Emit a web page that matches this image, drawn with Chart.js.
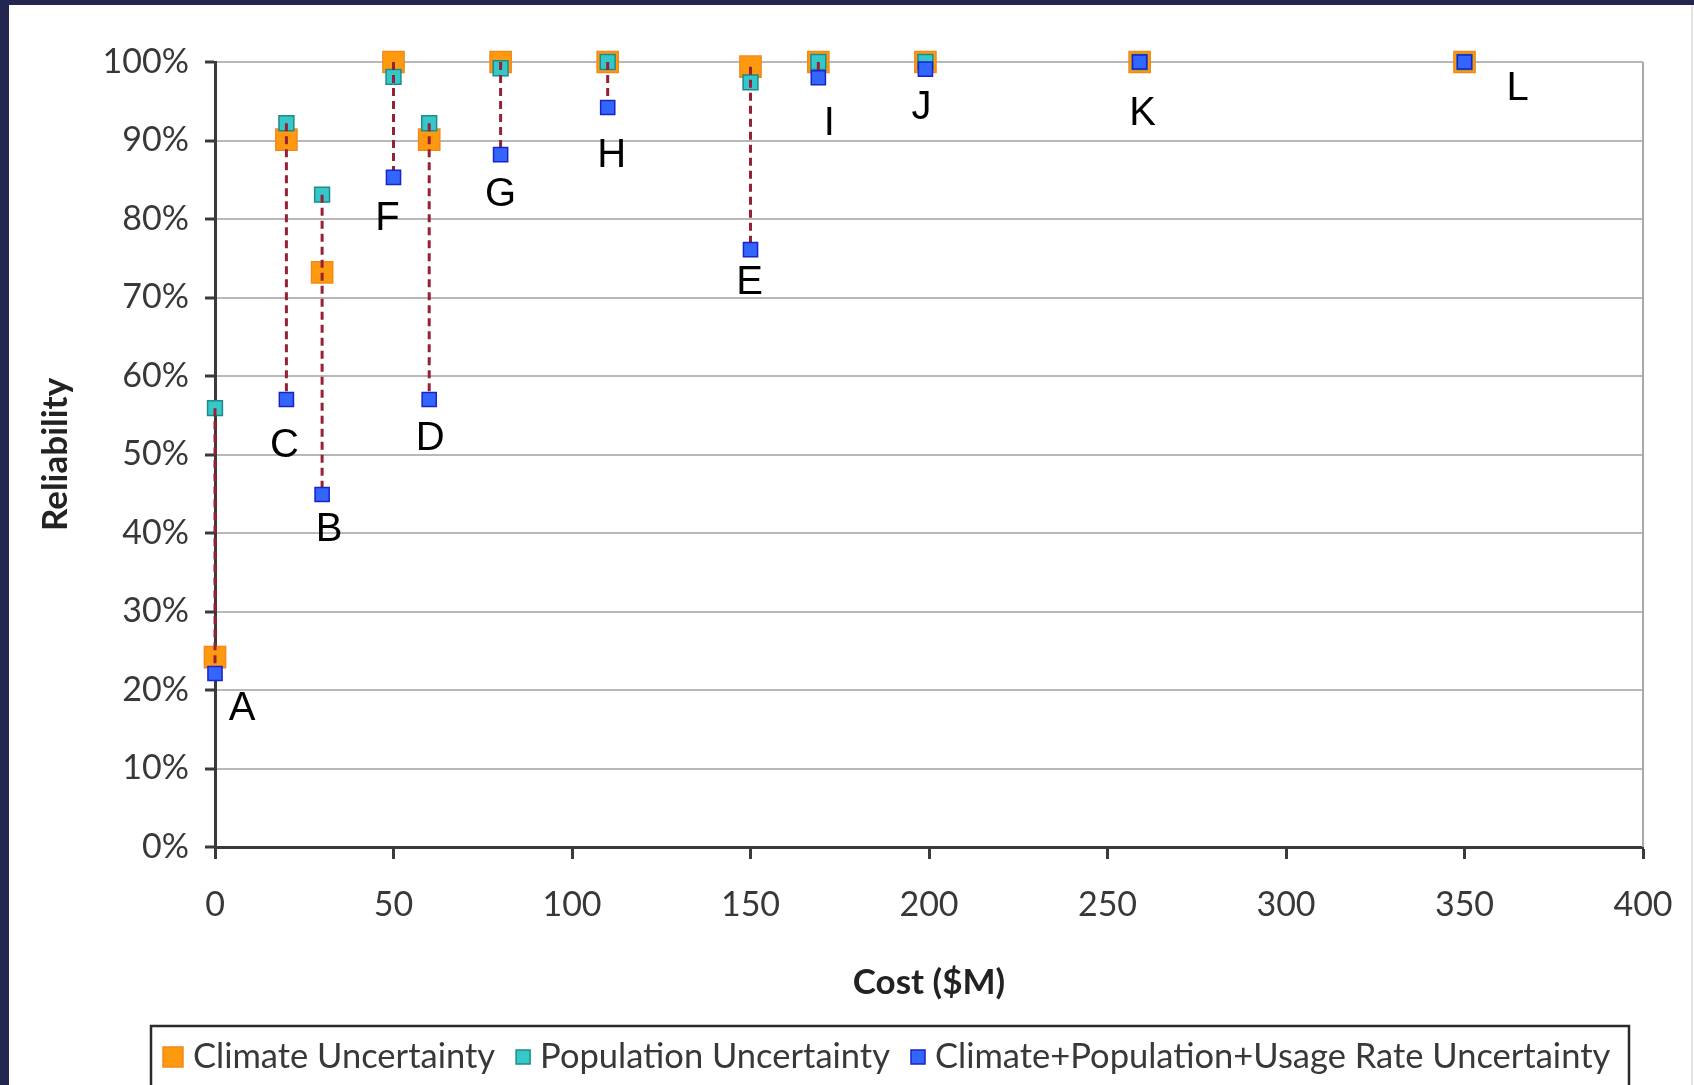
<!DOCTYPE html>
<html>
<head>
<meta charset="utf-8">
<script src="https://cdn.jsdelivr.net/npm/chart.js@4.4.0/dist/chart.umd.min.js"></script>
<style>
  html, body { margin: 0; padding: 0; background: #fff; }
  #wrap { position: relative; width: 1694px; height: 1085px; overflow: hidden; }
</style>
</head>
<body>
<div id="wrap"><canvas id="reliability" width="1694" height="1085"></canvas></div>
<script>
(function () {
    'use strict';

    // ====== Data ======
    const CASES = ['A', 'B', 'C', 'D', 'E', 'F', 'G', 'H', 'I', 'J', 'K', 'L'];
    const COST = [0, 30, 20, 60, 150, 50, 80, 110, 169, 199, 259, 350];                       // $M
    const CLIMATE = [24.2, 73.2, 90.1, 90.1, 99.4, 100, 100, 100, 100, 100, 100, 100];         // %
    const POPULATION = [55.9, 83.1, 92.2, 92.2, 97.4, 98.1, 99.2, 100, 100, 100, 100, 100];
    const COMBINED = [22.1, 44.9, 57.0, 57.0, 76.1, 85.3, 88.2, 94.2, 98.0, 99.1, 100, 100];
    const SERIES = ['Climate Uncertainty', 'Population Uncertainty', 'Climate+Population+Usage Rate Uncertainty'];
    const X_TICKS = [0, 50, 100, 150, 200, 250, 300, 350, 400];
    const Y_TICKS = [0, 10, 20, 30, 40, 50, 60, 70, 80, 90, 100];

    // ====== Styles ======
    const TICK_FONT = { family: 'Lato', size: 34 };
    const TITLE_FONT = { family: 'Lato', size: 35, weight: 'bold' };
    const TEXT = '#383838';
    const DARK = '#3a3a3a';
    const GRID = '#b8b8b8';
    const NAVY = '#23264f';

    const STYLE = [
        { bg: '#ff9a10', border: '#f08a1c', r: 15, legend: 20 },
        { bg: '#36c8c8', border: '#1e8a8a', r: 10.5, legend: 14 },
        { bg: '#3366ff', border: '#1a22c8', r: 10, legend: 14 }
    ];

    // letter placement relative to the lowest point of each case (px)
    const LETTER_OFFSET = {
        A: [27, 35], B: [7, 35], C: [-2, 46], D: [1, 39], E: [-1, 33], F: [-6, 42],
        G: [0, 40], H: [4, 48], I: [11, 46], J: [-4, 39], K: [3, 52], L: [53, 27]
    };

    const pts = (vals) => CASES.map((c, i) => ({ x: COST[i], y: vals[i] }));

    const spans = [];
    CASES.forEach((c, i) => {
        const hi = Math.max(CLIMATE[i], POPULATION[i], COMBINED[i]);
        const lo = Math.min(CLIMATE[i], POPULATION[i], COMBINED[i]);
        spans.push({ x: COST[i], y: hi }, { x: COST[i], y: lo }, { x: COST[i], y: null });
    });

    const series = [CLIMATE, POPULATION, COMBINED];
    const markerSets = series.map((vals, k) => ({
        type: 'scatter',
        label: SERIES[k],
        data: pts(vals),
        clip: false,
        pointStyle: 'rect',
        pointRadius: STYLE[k].r,
        pointHoverRadius: STYLE[k].r,
        backgroundColor: STYLE[k].bg,
        borderColor: STYLE[k].border,
        pointBorderWidth: 1.5,
        order: [3, 2, 0][k]
    }));

    // ====== Plugins ======
    const frame = {
        id: 'frame',
        beforeDraw(chart) {
            const { ctx, width, height } = chart;
            ctx.save();
            ctx.fillStyle = '#fff';
            ctx.fillRect(0, 0, width, height);
            ctx.fillStyle = NAVY;
            ctx.fillRect(0, 0, 9, height);
            ctx.fillRect(0, 0, width, 5);
            ctx.fillStyle = '#e4e4e4';
            ctx.fillRect(width - 3, 5, 2, height);
            ctx.restore();
        },
        beforeDatasetsDraw(chart) {
            const { ctx, chartArea: a } = chart;
            ctx.save();
            ctx.strokeStyle = '#a8a8a8';
            ctx.lineWidth = 2;
            ctx.beginPath();
            ctx.moveTo(a.right, a.top);
            ctx.lineTo(a.right, a.bottom);
            ctx.stroke();
            ctx.restore();
        }
    };

    const letters = {
        id: 'letters',
        afterDatasetsDraw(chart) {
            const { ctx, scales: { x, y } } = chart;
            ctx.save();
            ctx.font = '40px "Liberation Sans", Arial, sans-serif';
            ctx.fillStyle = '#000';
            ctx.textAlign = 'center';
            ctx.textBaseline = 'middle';
            CASES.forEach((c, i) => {
                const lo = Math.min(CLIMATE[i], POPULATION[i], COMBINED[i]);
                const [dx, dy] = LETTER_OFFSET[c];
                ctx.fillText(c, x.getPixelForValue(COST[i]) + dx, y.getPixelForValue(lo) + dy);
            });
            ctx.restore();
        }
    };

    const legendBox = {
        id: 'legendBox',
        afterDraw(chart) {
            const { ctx } = chart;
            const cy = 1057;
            ctx.save();
            ctx.strokeStyle = '#2a2a2a';
            ctx.lineWidth = 2.5;
            ctx.strokeRect(151, 1026, 1478, 80);
            ctx.font = '34.5px Lato';
            ctx.textBaseline = 'middle';
            let x = 163;
            SERIES.forEach((name, k) => {
                const s = STYLE[k].legend;
                ctx.fillStyle = STYLE[k].bg;
                ctx.fillRect(x, cy - s / 2, s, s);
                ctx.strokeStyle = STYLE[k].border;
                ctx.lineWidth = 1.5;
                ctx.strokeRect(x, cy - s / 2, s, s);
                x += s + 10;
                ctx.fillStyle = TEXT;
                ctx.fillText(name, x, cy);
                x += ctx.measureText(name).width + 21;
            });
            ctx.restore();
        }
    };

    // ====== Chart ======
    new Chart(document.getElementById('reliability'), {
        type: 'scatter',
        data: {
            datasets: [
                {
                    type: 'scatter',
                    label: 'range',
                    data: spans,
                    clip: false,
                    showLine: true,
                    spanGaps: false,
                    pointRadius: 0,
                    pointHoverRadius: 0,
                    borderColor: '#962035',
                    borderWidth: 3,
                    borderDash: [8, 5],
                    order: 1
                },
                ...markerSets
            ]
        },
        options: {
            responsive: false,
            animation: false,
            devicePixelRatio: 1,
            layout: { padding: { top: 62, right: 51, bottom: 0, left: 0 } },
            plugins: { legend: { display: false }, tooltip: { enabled: false } },
            scales: {
                x: {
                    type: 'linear',
                    min: 0,
                    max: 400,
                    afterBuildTicks: (s) => { s.ticks = X_TICKS.map(v => ({ value: v })); },
                    afterFit: (s) => { s.height = 238; s.paddingLeft = 0; s.paddingRight = 0; },
                    ticks: { font: TICK_FONT, color: TEXT, padding: 26, maxRotation: 0 },
                    grid: { drawOnChartArea: false, tickLength: 12, tickColor: DARK, tickWidth: 3 },
                    border: { color: DARK, width: 3 },
                    title: { display: true, text: 'Cost ($M)', font: TITLE_FONT, color: '#222', padding: { top: 0, bottom: 81 } }
                },
                y: {
                    type: 'linear',
                    min: 0,
                    max: 100,
                    afterBuildTicks: (s) => { s.ticks = Y_TICKS.map(v => ({ value: v })); },
                    afterFit: (s) => { s.width = 215; },
                    ticks: { font: TICK_FONT, color: TEXT, padding: 16, callback: (v) => v + '%' },
                    grid: { color: GRID, lineWidth: 2, tickLength: 10, tickColor: DARK, tickWidth: 3 },
                    border: { color: DARK, width: 3 },
                    title: { display: true, text: 'Reliability', font: TITLE_FONT, color: '#222', padding: { top: 35, bottom: 0 } }
                }
            }
        },
        plugins: [frame, letters, legendBox]
    });
})();
</script>
</body>
</html>
